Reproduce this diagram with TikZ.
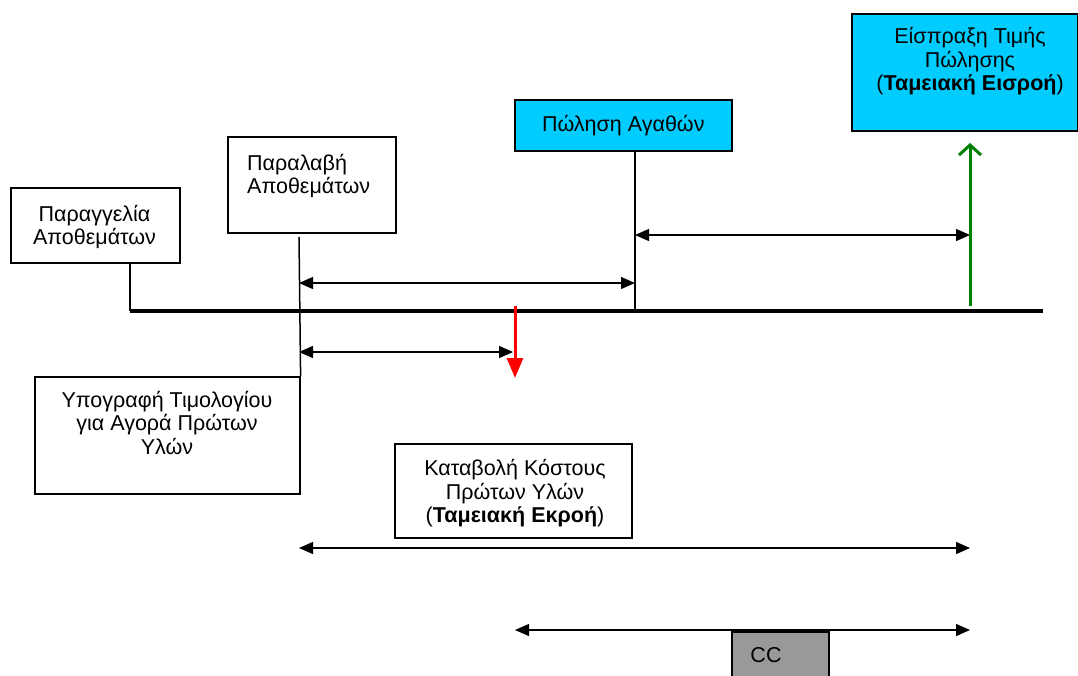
\documentclass[tikz,border=0pt]{standalone}
\usepackage{fontspec}
\setmainfont{Liberation Sans}
\usetikzlibrary{arrows.meta}
\definecolor{skyfill}{RGB}{0,204,255}
\definecolor{ccgray}{RGB}{153,153,153}
\definecolor{inflow}{RGB}{0,128,0}
\definecolor{outflow}{RGB}{255,0,0}
\begin{document}
\begin{tikzpicture}[x=1pt,y=-1pt,
  box/.style={draw,line width=1.6pt,anchor=north west,inner sep=0pt},
  txt/.style={font=\fontsize{21.5}{23.5}\selectfont,align=center,inner sep=0pt},
  tick/.style={line width=1.5pt},
  span/.style={line width=1.3pt,{Triangle[length=14pt,width=12pt]}-{Triangle[length=14pt,width=12pt]}},
]
\useasboundingbox (0,0) rectangle (1078,675);
\clip (0,0) rectangle (1078,675);
\fill[white] (0,0) rectangle (1078,675);

% event boxes
\node[box,minimum width=169pt,minimum height=75pt] (order) at (10,187) {};
\node[txt] (orderT) at (94.5,227) {Παραγγελία\\Αποθεμάτων};

\node[box,minimum width=168pt,minimum height=96pt] (recv) at (227,136) {};
\node[txt,align=left,anchor=west] (recvT) at (247,176) {Παραλαβή\\Αποθεμάτων};

\node[box,fill=skyfill,minimum width=217pt,minimum height=51pt,font=\fontsize{21.5}{23.5}\selectfont] (sale) at (514,99) {Πώληση Αγαθών};

\node[box,fill=skyfill,minimum width=226pt,minimum height=117pt] (cash) at (851,13) {};
\node[txt] (cashT) at (970,61.5) {Είσπραξη Τιμής\\Πώλησης\\(\textbf{Ταμειακή Εισροή})};

\node[box,minimum width=265pt,minimum height=117pt] (sign) at (34,376) {};
\node[txt] (signT) at (167,422.5) {Υπογραφή Τιμολογίου\\για Αγορά Πρώτων\\Υλών};

\node[box,minimum width=237pt,minimum height=94pt] (pay) at (394,443) {};
\node[txt] (payT) at (515,493.5) {Καταβολή Κόστους\\Πρώτων Υλών\\(\textbf{Ταμειακή Εκροή})};

\node[box,fill=ccgray,minimum width=97pt,minimum height=60pt] (cc) at (731,631) {};
\node[txt] (ccT) at (766,655) {CC};

% time line and its marks
\coordinate (tStart) at (130,311);
\coordinate (tEnd) at (1043,311);
\coordinate (tRecv) at (299,311);
\coordinate (tSale) at (635,311);
\coordinate (tCash) at (970,311);
\coordinate (tPay) at (515,311);
\coordinate (recvTop) at (299,237);

\draw[line width=3.5pt] (tStart) -- (tEnd);
\draw[tick] (order.south -| tStart) -- (tStart);
\draw[tick] (recvTop) -- (sign.north east);
\draw[tick] (sale.south -| tSale) -- (tSale);

% intervals
\coordinate (s1a) at (635,235);  \coordinate (s1b) at (970,235);
\coordinate (s2a) at (299,283);  \coordinate (s2b) at (635,283);
\coordinate (s3a) at (299,352);  \coordinate (s3b) at (513,352);
\coordinate (s4a) at (299,548);  \coordinate (s4b) at (970,548);
\coordinate (s5a) at (515,630);  \coordinate (s5b) at (970,630);
\draw[span] (s1a) -- (s1b);
\draw[span] (s2a) -- (s2b);
\draw[span] (s3a) -- (s3b);
\draw[span] (s4a) -- (s4b);
\draw[span] (s5a) -- (s5b);

% cash flows
\coordinate (inTop) at (970,143);
\coordinate (outEnd) at (515,378);
\draw[inflow,line width=3pt,-{Straight Barb[length=10pt,width=22pt]}] ([yshift=5pt]tCash) -- (inTop);
\draw[outflow,line width=3pt,-{Triangle[length=20pt,width=16pt]}] ([yshift=5pt]tPay) -- (outEnd);
\end{tikzpicture}
\end{document}
